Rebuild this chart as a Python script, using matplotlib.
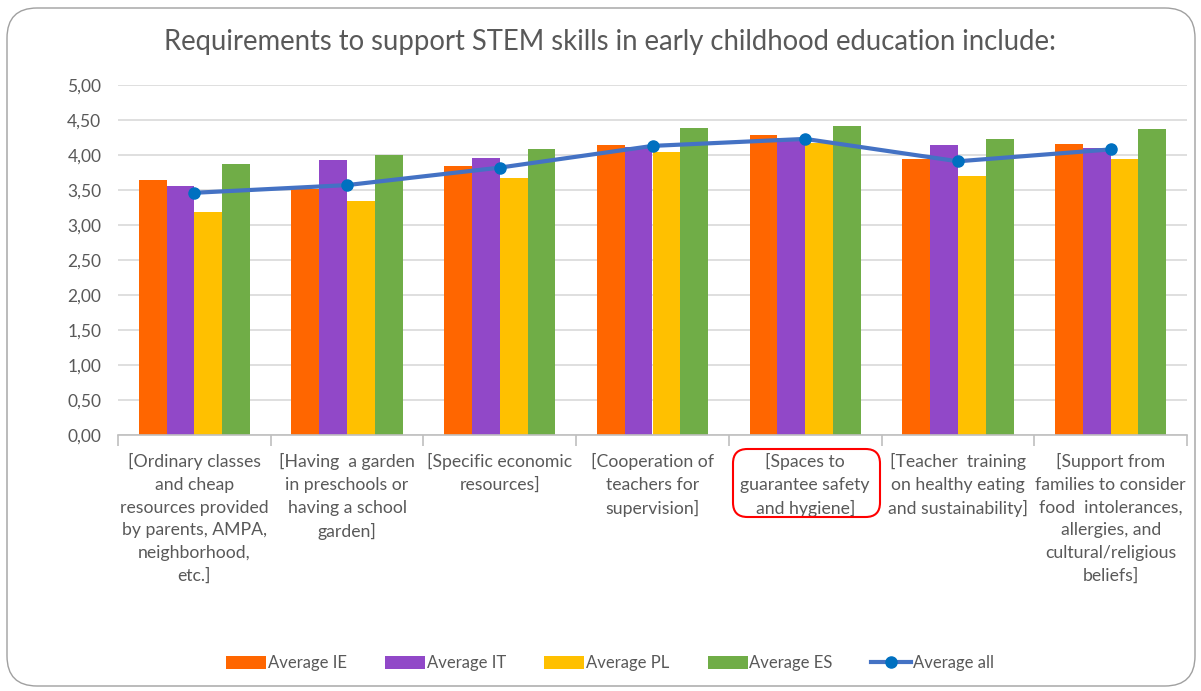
import matplotlib
matplotlib.use("Agg")
import matplotlib.pyplot as plt
import numpy as np
from matplotlib.patches import FancyBboxPatch
from matplotlib.lines import Line2D
from matplotlib.patches import Patch

plt.rcParams['font.family'] = ['Lato', 'DejaVu Sans']

categories = [
    "[Ordinary classes\nand cheap\nresources provided\nby parents, AMPA,\nneighborhood,\netc.]",
    "[Having  a garden\nin preschools or\nhaving a school\ngarden]",
    "[Specific economic\nresources]",
    "[Cooperation of\nteachers for\nsupervision]",
    "[Spaces to\nguarantee safety\nand hygiene]",
    "[Teacher  training\non healthy eating\nand sustainability]",
    "[Support from\nfamilies to consider\nfood  intolerances,\nallergies, and\ncultural/religious\nbeliefs]",
]
avg_ie = [3.64, 3.51, 3.84, 4.14, 4.28, 3.94, 4.16]
avg_it = [3.56, 3.93, 3.96, 4.11, 4.24, 4.15, 4.10]
avg_pl = [3.19, 3.35, 3.67, 4.05, 4.17, 3.70, 3.94]
avg_es = [3.87, 4.00, 4.08, 4.38, 4.41, 4.23, 4.37]
avg_all = [3.46, 3.57, 3.82, 4.13, 4.23, 3.91, 4.08]
series_names = ["Average IE", "Average IT", "Average PL", "Average ES"]
colors = ["#FF6600", "#9148C8", "#FFC000", "#70AD47"]
yticks = [0, 0.5, 1, 1.5, 2, 2.5, 3, 3.5, 4, 4.5, 5]
ytick_labels = ["0,00", "0,50", "1,00", "1,50", "2,00", "2,50", "3,00", "3,50", "4,00", "4,50", "5,00"]

W, H = 1201, 691
fig = plt.figure(figsize=(W / 100, H / 100), dpi=100)

# rounded border
border = FancyBboxPatch((7 / W, 5 / H), (1188 / W), (678 / H),
                        boxstyle="round,pad=0,rounding_size=0.025",
                        transform=fig.transFigure, fill=False,
                        edgecolor="#A0A0A0", linewidth=1.0, mutation_aspect=W / H)
fig.patches.append(border)

ax = fig.add_axes([118 / W, 1 - 435 / H, (1187 - 118) / W, (435 - 85) / H])
n = len(categories)
x = np.arange(n)
bw = 0.182
all_series = [avg_ie, avg_it, avg_pl, avg_es]
for i, (vals, c) in enumerate(zip(all_series, colors)):
    ax.bar(x + (i - 1.5) * bw, vals, width=bw, color=c, zorder=2, linewidth=0)
ax.plot(x, avg_all, color="#4472C4", linewidth=3, marker="o", markersize=8,
        markerfacecolor="#0070C0", markeredgecolor="#0070C0", zorder=3)

ax.set_xlim(-0.5, n - 0.5)
ax.set_ylim(0, 5)
ax.set_yticks(yticks)
ax.set_yticklabels(ytick_labels, fontsize=12.5, color="#595959")
ax.yaxis.grid(True, color="#D9D9D9", linewidth=1.2, zorder=0)
ax.set_axisbelow(True)
ax.tick_params(axis="y", length=0, pad=12)
for s in ["top", "right", "left"]:
    ax.spines[s].set_visible(False)
ax.spines["bottom"].set_color("#BFBFBF")
ax.spines["bottom"].set_linewidth(1.2)

ax.set_xticks(x)
ax.set_xticklabels(categories, fontsize=12.7, color="#595959", linespacing=1.52,
                   va="top")
ax.tick_params(axis="x", which="major", length=0, pad=13)
ax.set_xticks(np.arange(n + 1) - 0.5, minor=True)
ax.tick_params(axis="x", which="minor", length=8, color="#BFBFBF", width=1.2)

# red rounded box around 5th label
box = FancyBboxPatch((733 / W, 1 - 517 / H), (147 / W), (68 / H),
                     boxstyle="round,pad=0,rounding_size=0.012",
                     transform=fig.transFigure, fill=False,
                     edgecolor="#FF0000", linewidth=1.5, mutation_aspect=W / H)
fig.patches.append(box)

fig.text(610 / W, 1 - 42 / H, "Requirements to support STEM skills in early childhood education include:",
         ha="center", va="center", fontsize=19.8, color="#595959")

handles = [Patch(facecolor=c, edgecolor="none") for c in colors]
handles.append(Line2D([0], [0], color="#4472C4", linewidth=3, marker="o",
                      markersize=8, markerfacecolor="#0070C0", markeredgecolor="#0070C0"))
labels = series_names + ["Average all"]
fig.legend(handles, labels, loc="center", bbox_to_anchor=(610 / W, 1 - 663 / H),
           ncol=5, frameon=False, fontsize=12, labelcolor="#595959",
           handlelength=2.4, handleheight=0.8, handletextpad=0.1, columnspacing=2.3)

fig.savefig("out.png", dpi=100)
